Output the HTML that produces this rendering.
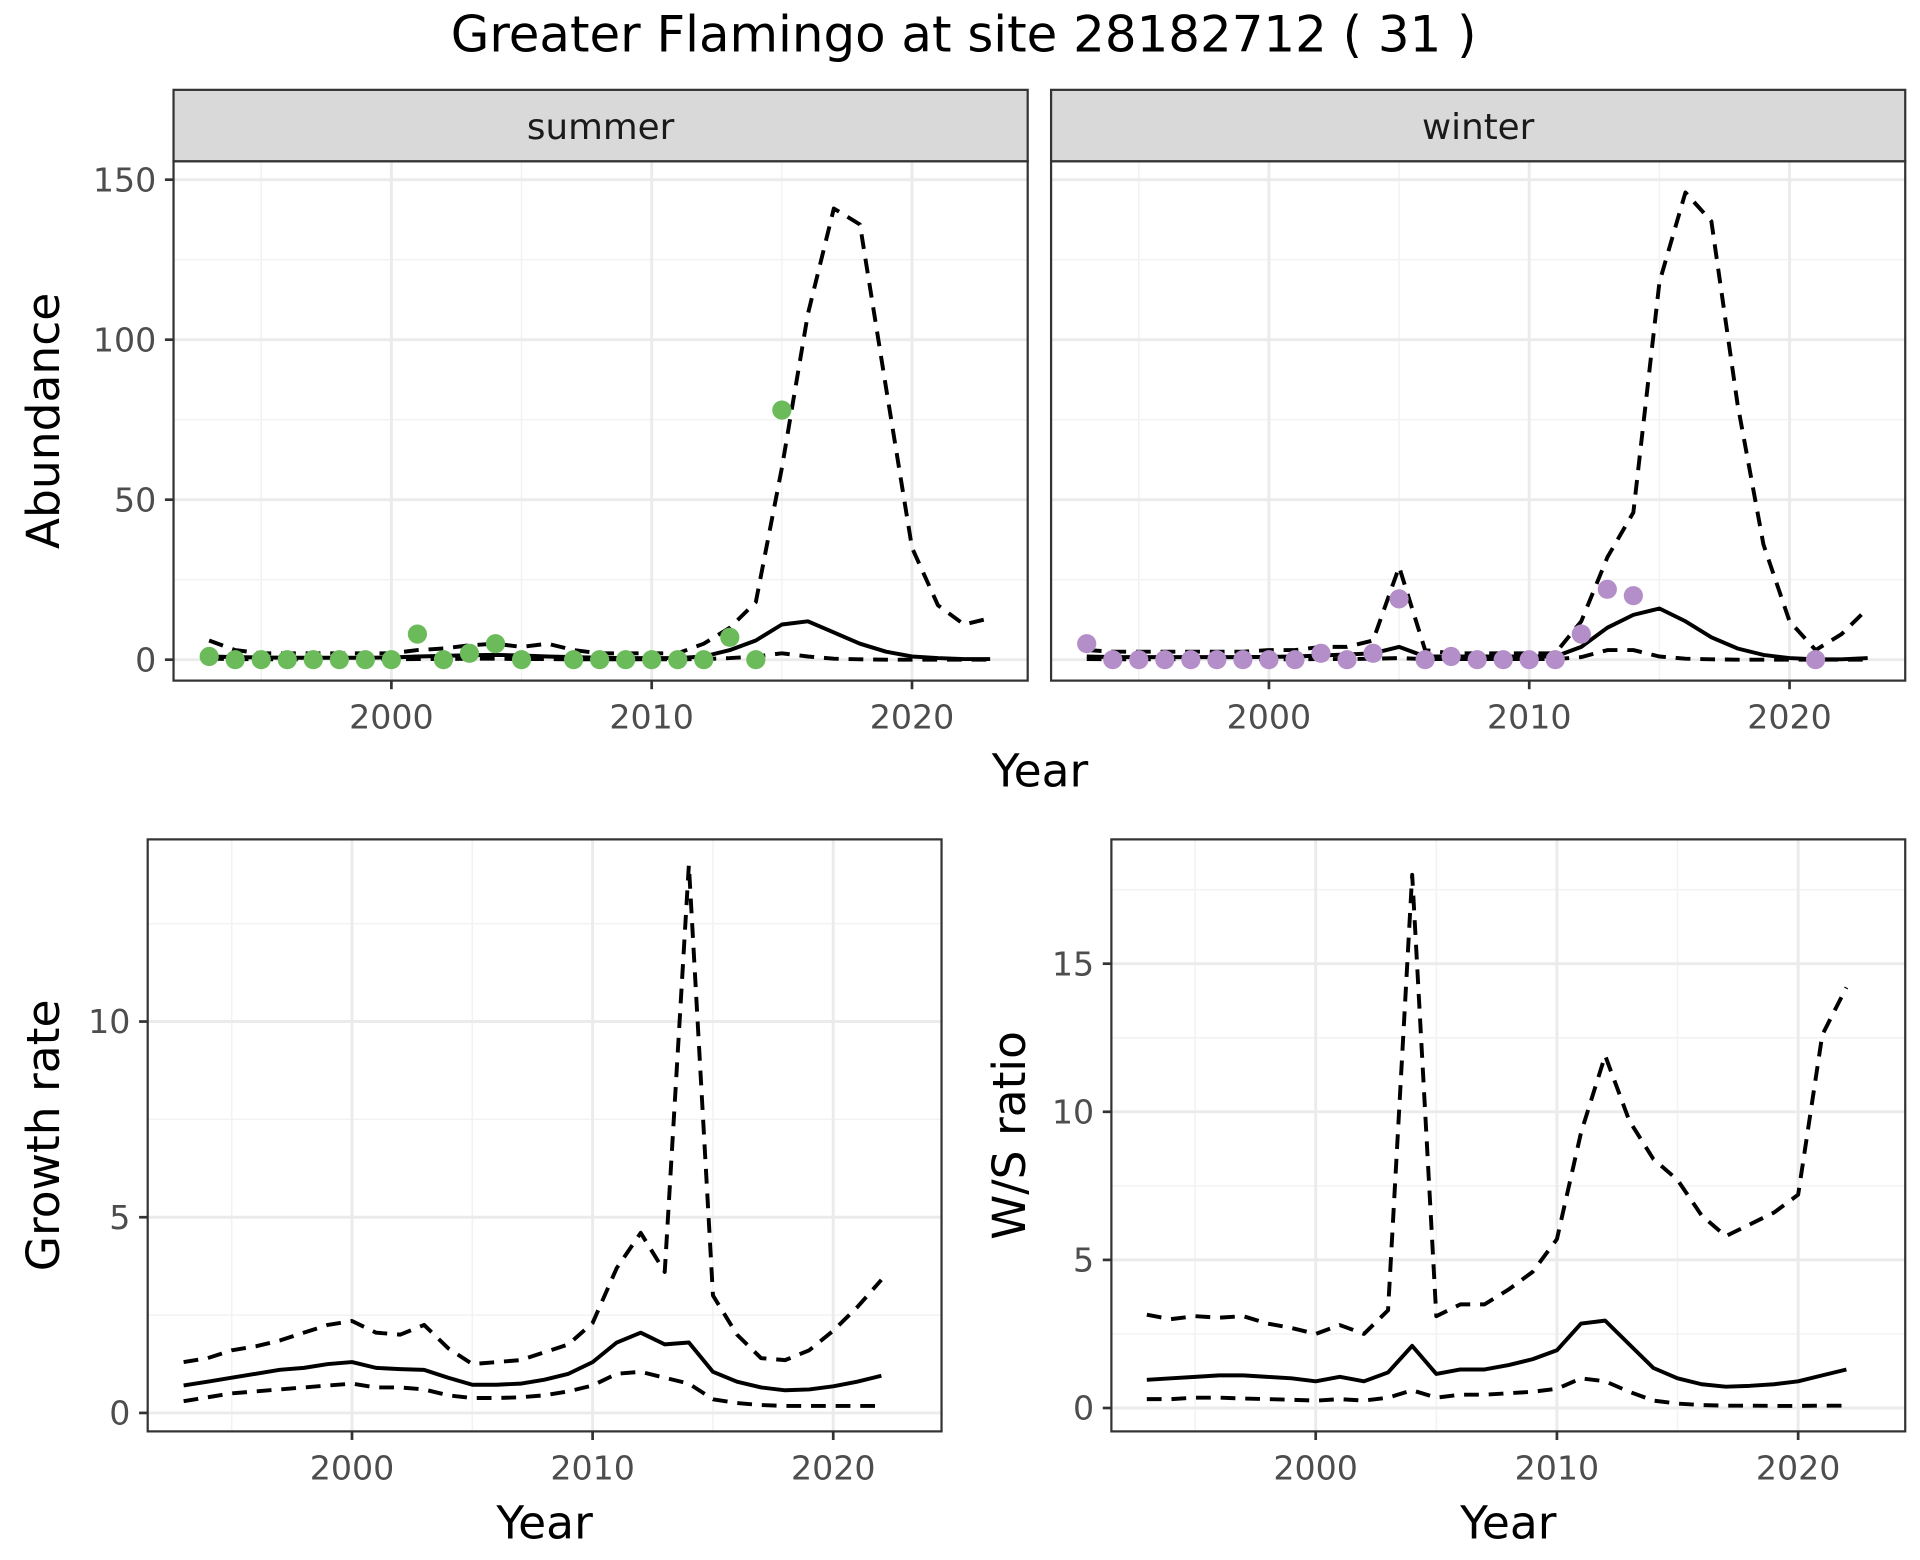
<!DOCTYPE html>
<html><head><meta charset="utf-8"><style>
html,body{margin:0;padding:0;background:#fff;}
svg{display:block;font-family:"DejaVu Sans","Liberation Sans",sans-serif;}
</style></head><body>
<svg id="chart" width="1920" height="1560" viewBox="0 0 1560 1267.5" xmlns="http://www.w3.org/2000/svg">
<text x="783" y="42" font-size="40.5" text-anchor="middle" fill="#000">Greater Flamingo at site 28182712 ( 31 )</text>
</svg>
<script>
const yearsTop = [1993,1994,1995,1996,1997,1998,1999,2000,2001,2002,2003,2004,2005,2006,2007,2008,2009,2010,2011,2012,2013,2014,2015,2016,2017,2018,2019,2020,2021,2022,2023];
const summerMean = [1,0.8,0.7,0.6,0.6,0.6,0.6,0.7,1,1.2,1.4,1.5,1.3,1,0.8,0.6,0.5,0.5,0.5,1,3,6,11,12,8.5,5,2.5,1,0.5,0.2,0.2];
const summerUpper = [6,3,2,2,2,2,2,2,3,3.5,4.5,5,4,5,3,2,2,2,2,5,10,18,60,108,141,136,85,35,17,11,13];
const summerLower = [0.3,0.2,0.1,0.1,0.1,0.1,0.1,0.1,0.2,0.2,0.3,0.3,0.2,0.2,0.1,0.1,0.1,0.1,0.1,0.2,0.5,1,2,1,0.3,0.1,0,0,0,0,0];
const summerPtYears = [1993,1994,1995,1996,1997,1998,1999,2000,2001,2002,2003,2004,2005,2007,2008,2009,2010,2011,2012,2013,2014,2015];
const summerPts = [1,0,0,0,0,0,0,0,8,0,2,5,0,0,0,0,0,0,0,7,0,78];
const winterMean = [1,0.8,0.8,0.8,0.8,0.8,0.8,0.9,1,1.3,1.6,2,4,1,1,1,1,1,1,4,10,14,16,12,7,3.5,1.5,0.5,0.1,0.1,0.5];
const winterUpper = [3,2.5,2.5,2.5,2.5,2.5,2.5,3,3,4,4,6,29,3,2,2,2,2,2,12,32,46,118,146,137,80,36,12,3,8,16];
const winterLower = [0.2,0.1,0.1,0.1,0.1,0.1,0.1,0.1,0.1,0.2,0.2,0.3,0.5,0.2,0.2,0.2,0.2,0.2,0.2,0.8,3,3,1,0.3,0.1,0,0,0,0,0,0];
const winterPtYears = [1993,1994,1995,1996,1997,1998,1999,2000,2001,2002,2003,2004,2005,2006,2007,2008,2009,2010,2011,2012,2013,2014,2021];
const winterPts = [5,0,0,0,0,0,0,0,0,2,0,2,19,0,1,0,0,0,0,8,22,20,0];
const yearsBot = [1993,1994,1995,1996,1997,1998,1999,2000,2001,2002,2003,2004,2005,2006,2007,2008,2009,2010,2011,2012,2013,2014,2015,2016,2017,2018,2019,2020,2021,2022];
const growthMean = [0.7,0.8,0.9,1.0,1.1,1.15,1.25,1.3,1.15,1.12,1.1,0.9,0.72,0.72,0.75,0.85,1.0,1.3,1.8,2.05,1.75,1.8,1.05,0.8,0.65,0.58,0.6,0.68,0.8,0.95];
const growthUpper = [1.3,1.4,1.6,1.7,1.85,2.05,2.25,2.35,2.05,2.0,2.25,1.65,1.25,1.3,1.35,1.55,1.75,2.3,3.7,4.6,3.6,14,3.0,2.0,1.4,1.35,1.6,2.1,2.7,3.4];
const growthLower = [0.3,0.4,0.5,0.55,0.6,0.65,0.7,0.75,0.65,0.65,0.6,0.45,0.38,0.38,0.4,0.45,0.55,0.7,1.0,1.05,0.9,0.75,0.35,0.25,0.2,0.18,0.18,0.18,0.18,0.18];
const wsMean = [0.95,1.0,1.05,1.1,1.1,1.05,1.0,0.9,1.05,0.9,1.2,2.1,1.15,1.3,1.3,1.45,1.65,1.95,2.85,2.95,2.15,1.35,1.0,0.8,0.72,0.75,0.8,0.9,1.1,1.3];
const wsUpper = [3.15,3.0,3.1,3.05,3.1,2.85,2.7,2.5,2.8,2.5,3.3,18,3.1,3.5,3.5,4.0,4.6,5.7,9.3,11.9,9.7,8.4,7.7,6.5,5.8,6.2,6.6,7.2,12.6,14.2];
const wsLower = [0.3,0.3,0.35,0.35,0.32,0.3,0.28,0.25,0.3,0.25,0.35,0.6,0.35,0.45,0.45,0.5,0.55,0.65,1.0,0.9,0.55,0.25,0.15,0.1,0.08,0.08,0.07,0.07,0.08,0.08];
const xTicks = [2000,2010,2020];
const xMinor = [1995,2005,2015];
const topYTicks = [0,50,100,150];
const growthYTicks = [0,5,10];
const wsYTicks = [0,5,10,15];

const NS='http://www.w3.org/2000/svg';
const svg=document.getElementById('chart');
function mk(tag,attrs,parent){const e=document.createElementNS(NS,tag);for(const k in attrs)e.setAttribute(k,attrs[k]);(parent||svg).appendChild(e);return e;}
function lin(d0,d1,r0,r1){return v=>r0+(v-d0)*(r1-r0)/(d1-d0);}

function panel(o){
  const g=mk('g',{});
  
  
  const xs=lin(2000,2020,o.x2000,o.x2020), ys=lin(0,o.yRef,o.y0,o.yRefPx);
  mk('rect',{x:o.l,y:o.t,width:o.r-o.l,height:o.b-o.t,fill:'#fff'},g);
  xMinor.forEach(v=>{const l=mk('line',{x1:xs(v),x2:xs(v),y1:o.t,y2:o.b,stroke:'#f2f2f2','stroke-width':1.2},g);});
  for(let i=0;i<o.yTicks.length;i++){const v=o.yTicks[i]+(o.yTicks[1]-o.yTicks[0])/2;const y=ys(v);if(y>o.t&&y<o.b){const l=mk('line',{x1:o.l,x2:o.r,y1:y,y2:y,stroke:'#f2f2f2','stroke-width':1.2},g);}}
  xTicks.forEach(v=>{const l=mk('line',{x1:xs(v),x2:xs(v),y1:o.t,y2:o.b,stroke:'#ebebeb','stroke-width':2.4},g);});
  o.yTicks.forEach(v=>{const l=mk('line',{x1:o.l,x2:o.r,y1:ys(v),y2:ys(v),stroke:'#ebebeb','stroke-width':2.4},g);});
  const path=(ya,arr,dash,nm)=>{const d=ya.map((yr,i)=>(i?'L':'M')+xs(yr).toFixed(1)+','+ys(arr[i]).toFixed(1)).join('');const p=mk('path',{d:d,fill:'none',stroke:'#000','stroke-width':3.2,'stroke-dasharray':dash?'12,8':'none','stroke-linejoin':'round'},g);};
  path(o.years,o.upper,true,'upper-bound-line');
  path(o.years,o.lower,true,'lower-bound-line');
  path(o.years,o.mean,false,'mean-line');
  if(o.ptYears){o.ptYears.forEach((yr,i)=>{const c=mk('circle',{cx:xs(yr),cy:ys(o.pts[i]),r:7.8,fill:o.ptColor},g);});}
  mk('rect',{x:o.l,y:o.t,width:o.r-o.l,height:o.b-o.t,fill:'none',stroke:'#333','stroke-width':1.8},g);
  if(o.showY){o.yTicks.forEach(v=>{mk('line',{x1:o.l-7,x2:o.l,y1:ys(v),y2:ys(v),stroke:'#333','stroke-width':2.2},g);const t=mk('text',{x:o.l-14,y:ys(v)+9.5,'font-size':27,'text-anchor':'end',fill:'#4d4d4d'},g);t.textContent=v;});}
  xTicks.forEach(v=>{mk('line',{x1:xs(v),x2:xs(v),y1:o.b,y2:o.b+7,stroke:'#333','stroke-width':2.2},g);const t=mk('text',{x:xs(v),y:o.b+39,'font-size':27,'text-anchor':'middle',fill:'#4d4d4d'},g);t.textContent=v;});
  if(o.strip){const s=mk('rect',{x:o.l,y:73,width:o.r-o.l,height:o.t-73,fill:'#d9d9d9',stroke:'#333','stroke-width':1.8},g);const t=mk('text',{x:(o.l+o.r)/2,y:113,'font-size':29,'text-anchor':'middle',fill:'#1a1a1a'},g);t.textContent=o.strip;}
  if(o.yTitle){const t=mk('text',{x:0,y:0,'font-size':37,'text-anchor':'middle',fill:'#000',transform:`translate(${o.yTitleX},${(o.t+o.b)/2}) rotate(-90)`},g);t.textContent=o.yTitle;}
  if(o.xTitle){const t=mk('text',{x:(o.l+o.r)/2,y:o.b+87,'font-size':37,'text-anchor':'middle',fill:'#000'},g);t.textContent='Year';}
}

panel({name:'summer-panel',l:141,r:835,t:131,b:553,x2000:318,x2020:741,y0:536,yRef:150,yRefPx:146,yTicks:topYTicks,showY:true,strip:'summer',years:yearsTop,mean:summerMean,upper:summerUpper,lower:summerLower,ptYears:summerPtYears,pts:summerPts,ptColor:'#6bbb5b',yTitle:'Abundance',yTitleX:48});
panel({name:'winter-panel',l:854,r:1548,t:131,b:553,x2000:1031,x2020:1454,y0:536,yRef:150,yRefPx:146,yTicks:topYTicks,showY:false,strip:'winter',years:yearsTop,mean:winterMean,upper:winterUpper,lower:winterLower,ptYears:winterPtYears,pts:winterPts,ptColor:'#b48ec8'});
const yt=mk('text',{x:845,y:639,'font-size':37,'text-anchor':'middle',fill:'#000'});yt.textContent='Year';


panel({name:'growth-rate-panel',l:120,r:765,t:682,b:1163,x2000:286,x2020:677,y0:1148,yRef:10,yRefPx:830,yTicks:growthYTicks,showY:true,years:yearsBot,mean:growthMean,upper:growthUpper,lower:growthLower,yTitle:'Growth rate',yTitleX:48,xTitle:true});
panel({name:'ws-ratio-panel',l:903,r:1548,t:682,b:1163,x2000:1069,x2020:1461,y0:1144,yRef:15,yRefPx:783,yTicks:wsYTicks,showY:true,years:yearsBot,mean:wsMean,upper:wsUpper,lower:wsLower,yTitle:'W/S ratio',yTitleX:833,xTitle:true});
</script>
</body></html>
